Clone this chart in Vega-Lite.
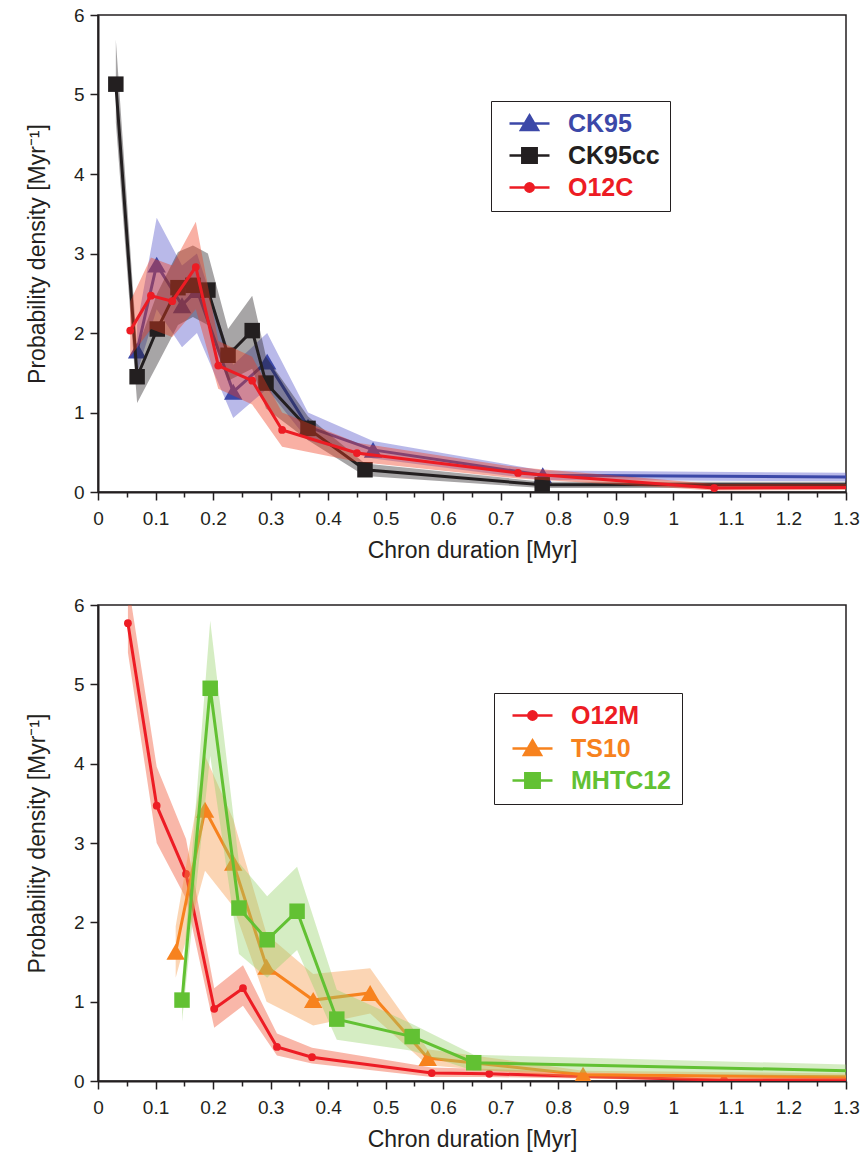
{
  "$schema": "https://vega.github.io/schema/vega-lite/v6.json",
  "padding": {"left": 25, "top": 5, "right": 5, "bottom": 5},
  "background": "white",
  "spacing": 32,
  "config": {
    "font": "Liberation Sans",
    "view": {"stroke": "#231f20", "strokeWidth": 1.5},
    "axis": {
      "grid": false,
      "domainColor": "#231f20",
      "domainWidth": 2,
      "tickColor": "#231f20",
      "tickWidth": 1.5,
      "labelFont": "Liberation Sans",
      "labelFontSize": 19,
      "labelColor": "#231f20",
      "titleFont": "Liberation Sans",
      "titleFontSize": 23,
      "titleFontWeight": "normal",
      "titleColor": "#231f20"
    },
    "axisX": {"labelPadding": 9},
    "axisY": {"labelPadding": 6},
    "legend": {
      "orient": "none",
      "strokeColor": "#231f20", "fillColor": "white", "padding": 10,
      "labelFontSize": 25, "labelFontWeight": "bold", "labelFont": "Liberation Sans", "labelOffset": 26,
      "symbolSize": 400, "symbolOffset": 16, "rowPadding": 6, "symbolStrokeWidth": 2.5, "symbolOpacity": 1,
      "labelColor": {"expr": "datum.value == 'CK95' ? '#3c48a8' : datum.value == 'CK95cc' ? '#231f20' : datum.value == 'TS10' ? '#f7821e' : datum.value == 'MHTC12' ? '#62c133' : '#ed1c24'"},
      "symbolFillColor": {"expr": "datum.value == 'CK95' ? '#3c48a8' : datum.value == 'CK95cc' ? '#231f20' : datum.value == 'TS10' ? '#f7821e' : datum.value == 'MHTC12' ? '#62c133' : '#ed1c24'"},
      "symbolStrokeColor": {"expr": "datum.value == 'CK95' ? '#3c48a8' : datum.value == 'CK95cc' ? '#231f20' : datum.value == 'TS10' ? '#f7821e' : datum.value == 'MHTC12' ? '#62c133' : '#ed1c24'"}
    }
  },
  "datasets": {
    "d": [
      {"panel": "A", "series": "CK95", "x": 0.068, "y": 1.78, "lo": 1.5, "hi": 2.1},
      {"panel": "A", "series": "CK95", "x": 0.102, "y": 2.86, "lo": 2.3, "hi": 3.45},
      {"panel": "A", "series": "CK95", "x": 0.146, "y": 2.35, "lo": 1.82, "hi": 2.85},
      {"panel": "A", "series": "CK95", "x": 0.172, "y": 2.54, "lo": 2.0, "hi": 3.0},
      {"panel": "A", "series": "CK95", "x": 0.235, "y": 1.26, "lo": 0.93, "hi": 1.6},
      {"panel": "A", "series": "CK95", "x": 0.294, "y": 1.64, "lo": 1.3, "hi": 2.0},
      {"panel": "A", "series": "CK95", "x": 0.365, "y": 0.82, "lo": 0.65, "hi": 1.0},
      {"panel": "A", "series": "CK95", "x": 0.478, "y": 0.53, "lo": 0.42, "hi": 0.64},
      {"panel": "A", "series": "CK95", "x": 0.773, "y": 0.21, "lo": 0.15, "hi": 0.27},
      {"panel": "A", "series": "CK95", "x": 1.5, "y": 0.18, "lo": 0.13, "hi": 0.23},
      {"panel": "A", "series": "CK95cc", "x": 0.031, "y": 5.13, "lo": 4.65, "hi": 5.69},
      {"panel": "A", "series": "CK95cc", "x": 0.068, "y": 1.45, "lo": 1.12, "hi": 1.8},
      {"panel": "A", "series": "CK95cc", "x": 0.103, "y": 2.05, "lo": 1.6, "hi": 2.5},
      {"panel": "A", "series": "CK95cc", "x": 0.139, "y": 2.57, "lo": 2.1, "hi": 3.02},
      {"panel": "A", "series": "CK95cc", "x": 0.165, "y": 2.6, "lo": 2.2, "hi": 3.1},
      {"panel": "A", "series": "CK95cc", "x": 0.191, "y": 2.54, "lo": 2.1, "hi": 3.0},
      {"panel": "A", "series": "CK95cc", "x": 0.226, "y": 1.72, "lo": 1.4, "hi": 2.05},
      {"panel": "A", "series": "CK95cc", "x": 0.268, "y": 2.03, "lo": 1.55, "hi": 2.47},
      {"panel": "A", "series": "CK95cc", "x": 0.292, "y": 1.37, "lo": 1.05, "hi": 1.7},
      {"panel": "A", "series": "CK95cc", "x": 0.365, "y": 0.8, "lo": 0.65, "hi": 0.95},
      {"panel": "A", "series": "CK95cc", "x": 0.464, "y": 0.28, "lo": 0.2, "hi": 0.36},
      {"panel": "A", "series": "CK95cc", "x": 0.772, "y": 0.09, "lo": 0.05, "hi": 0.13},
      {"panel": "A", "series": "CK95cc", "x": 1.5, "y": 0.09, "lo": 0.05, "hi": 0.13},
      {"panel": "A", "series": "O12C", "x": 0.056, "y": 2.03, "lo": 1.7, "hi": 2.4},
      {"panel": "A", "series": "O12C", "x": 0.092, "y": 2.47, "lo": 2.05, "hi": 2.95},
      {"panel": "A", "series": "O12C", "x": 0.129, "y": 2.4, "lo": 1.95, "hi": 2.85},
      {"panel": "A", "series": "O12C", "x": 0.17, "y": 2.83, "lo": 2.3, "hi": 3.4},
      {"panel": "A", "series": "O12C", "x": 0.209, "y": 1.59, "lo": 1.3, "hi": 1.9},
      {"panel": "A", "series": "O12C", "x": 0.268, "y": 1.4, "lo": 1.1, "hi": 1.7},
      {"panel": "A", "series": "O12C", "x": 0.32, "y": 0.78, "lo": 0.57, "hi": 1.0},
      {"panel": "A", "series": "O12C", "x": 0.45, "y": 0.49, "lo": 0.38, "hi": 0.62},
      {"panel": "A", "series": "O12C", "x": 0.73, "y": 0.24, "lo": 0.17, "hi": 0.31},
      {"panel": "A", "series": "O12C", "x": 1.071, "y": 0.05, "lo": 0.02, "hi": 0.1},
      {"panel": "A", "series": "O12C", "x": 1.5, "y": 0.06, "lo": 0.03, "hi": 0.1},
      {"panel": "B", "series": "O12M", "x": 0.052, "y": 5.77, "lo": 5.4, "hi": 6.3},
      {"panel": "B", "series": "O12M", "x": 0.102, "y": 3.47, "lo": 3.0, "hi": 3.96},
      {"panel": "B", "series": "O12M", "x": 0.153, "y": 2.61, "lo": 2.3, "hi": 3.05},
      {"panel": "B", "series": "O12M", "x": 0.202, "y": 0.91, "lo": 0.67, "hi": 1.17},
      {"panel": "B", "series": "O12M", "x": 0.252, "y": 1.17, "lo": 0.95, "hi": 1.46},
      {"panel": "B", "series": "O12M", "x": 0.311, "y": 0.43, "lo": 0.32, "hi": 0.6},
      {"panel": "B", "series": "O12M", "x": 0.372, "y": 0.3, "lo": 0.22, "hi": 0.42},
      {"panel": "B", "series": "O12M", "x": 0.58, "y": 0.1, "lo": 0.05, "hi": 0.17},
      {"panel": "B", "series": "O12M", "x": 0.68, "y": 0.09, "lo": 0.05, "hi": 0.15},
      {"panel": "B", "series": "O12M", "x": 1.088, "y": 0.01, "lo": 0.0, "hi": 0.05},
      {"panel": "B", "series": "O12M", "x": 1.5, "y": 0.02, "lo": 0.0, "hi": 0.06},
      {"panel": "B", "series": "TS10", "x": 0.135, "y": 1.63, "lo": 1.3, "hi": 1.95},
      {"panel": "B", "series": "TS10", "x": 0.186, "y": 3.42, "lo": 2.65, "hi": 4.1},
      {"panel": "B", "series": "TS10", "x": 0.235, "y": 2.75, "lo": 2.2, "hi": 3.3},
      {"panel": "B", "series": "TS10", "x": 0.293, "y": 1.44, "lo": 1.0, "hi": 1.85},
      {"panel": "B", "series": "TS10", "x": 0.374, "y": 1.02, "lo": 0.7, "hi": 1.35},
      {"panel": "B", "series": "TS10", "x": 0.473, "y": 1.11, "lo": 0.85, "hi": 1.42},
      {"panel": "B", "series": "TS10", "x": 0.573, "y": 0.29, "lo": 0.2, "hi": 0.4},
      {"panel": "B", "series": "TS10", "x": 0.843, "y": 0.08, "lo": 0.03, "hi": 0.13},
      {"panel": "B", "series": "TS10", "x": 1.5, "y": 0.04, "lo": 0.01, "hi": 0.08},
      {"panel": "B", "series": "MHTC12", "x": 0.146, "y": 1.02, "lo": 0.75, "hi": 1.25},
      {"panel": "B", "series": "MHTC12", "x": 0.195, "y": 4.95, "lo": 4.1, "hi": 5.8},
      {"panel": "B", "series": "MHTC12", "x": 0.245, "y": 2.18, "lo": 1.6, "hi": 2.75},
      {"panel": "B", "series": "MHTC12", "x": 0.294, "y": 1.78, "lo": 1.3, "hi": 2.33},
      {"panel": "B", "series": "MHTC12", "x": 0.346, "y": 2.14, "lo": 1.65, "hi": 2.7},
      {"panel": "B", "series": "MHTC12", "x": 0.415, "y": 0.78, "lo": 0.52, "hi": 1.15},
      {"panel": "B", "series": "MHTC12", "x": 0.546, "y": 0.56, "lo": 0.38, "hi": 0.72},
      {"panel": "B", "series": "MHTC12", "x": 0.653, "y": 0.23, "lo": 0.13, "hi": 0.33},
      {"panel": "B", "series": "MHTC12", "x": 1.5, "y": 0.1, "lo": 0.03, "hi": 0.17}
    ]
  },
  "vconcat": [
    {
      "width": 748,
      "height": 477,
      "data": {"name": "d"},
      "encoding": {
        "x": {
          "field": "x", "type": "quantitative",
          "scale": {"domain": [0, 1.3], "nice": false, "zero": false},
          "axis": {
            "title": "Chron duration [Myr]",
            "values": [0, 0.05, 0.1, 0.15, 0.2, 0.25, 0.3, 0.35, 0.4, 0.45, 0.5, 0.55, 0.6, 0.65, 0.7, 0.75, 0.8, 0.85, 0.9, 0.95, 1, 1.05, 1.1, 1.15, 1.2, 1.25, 1.3],
            "labelExpr": "round(datum.value*20) % 2 == 0 ? format(datum.value, '~g') : ''",
            "tickSize": {"condition": {"test": "round(datum.value*20) % 2 == 0", "value": 8}, "value": 5},
            "labelOverlap": false, "labelFlush": false, "titlePadding": 11
          }
        },
        "y": {"field": "y", "type": "quantitative", "scale": {"domain": [0, 6], "nice": false},
          "axis": {"title": "Probability density [Myr⁻¹]", "values": [0, 1, 2, 3, 4, 5, 6], "format": "d", "tickSize": 8, "titlePadding": 24}}
      },
      "layer": [
        {
          "transform": [{"filter": "datum.series === 'CK95'"}],
          "mark": {"type": "area", "opacity": 0.4, "color": "#5050c8", "clip": true},
          "encoding": {"y": {"field": "lo", "type": "quantitative"}, "y2": {"field": "hi"}}
        },
        {
          "transform": [{"filter": "datum.series === 'CK95'"}],
          "mark": {"type": "line", "strokeWidth": 3, "clip": true},
          "encoding": {
            "color": {
              "field": "series", "type": "nominal",
              "scale": {"domain": ["CK95", "CK95cc", "O12C"], "range": ["#3c48a8", "#231f20", "#ed1c24"]},
              "legend": {
                "legendX": 393, "legendY": 86, "title": null, "symbolSize": 400,
                "symbolType": {"expr": "datum.value == 'CK95' || datum.value == 'TS10' ? 'M-2,0H2M0,-0.8L0.85,0.65L-0.85,0.65Z' : datum.value == 'CK95cc' || datum.value == 'MHTC12' ? 'M-2,0H2M-0.72,-0.72H0.72V0.72H-0.72Z' : 'M-2,0H2M0.42,0A0.42,0.42 0 1,1 -0.42,0A0.42,0.42 0 1,1 0.42,0Z'"}
              }
            }
          }
        },
        {
          "transform": [{"filter": "datum.series === 'CK95'"}],
          "mark": {"type": "point", "shape": "triangle-up", "size": 340, "filled": true, "opacity": 1, "clip": true},
          "encoding": {"color": {"field": "series", "type": "nominal"}}
        },
        {
          "transform": [{"filter": "datum.series === 'CK95cc'"}],
          "mark": {"type": "area", "opacity": 0.4, "color": "#231f20", "clip": true},
          "encoding": {"y": {"field": "lo", "type": "quantitative"}, "y2": {"field": "hi"}}
        },
        {
          "transform": [{"filter": "datum.series === 'CK95cc'"}],
          "mark": {"type": "line", "strokeWidth": 3, "clip": true},
          "encoding": {"color": {"field": "series", "type": "nominal"}}
        },
        {
          "transform": [{"filter": "datum.series === 'CK95cc'"}],
          "mark": {"type": "point", "shape": "square", "size": 240, "filled": true, "opacity": 1, "clip": true},
          "encoding": {"color": {"field": "series", "type": "nominal"}}
        },
        {
          "transform": [{"filter": "datum.series === 'O12C'"}],
          "mark": {"type": "area", "opacity": 0.4, "color": "#ef3a1c", "clip": true},
          "encoding": {"y": {"field": "lo", "type": "quantitative"}, "y2": {"field": "hi"}}
        },
        {
          "transform": [{"filter": "datum.series === 'O12C'"}],
          "mark": {"type": "line", "strokeWidth": 3, "clip": true},
          "encoding": {"color": {"field": "series", "type": "nominal"}}
        },
        {
          "transform": [{"filter": "datum.series === 'O12C'"}],
          "mark": {"type": "point", "shape": "circle", "size": 60, "filled": true, "opacity": 1, "clip": true},
          "encoding": {"color": {"field": "series", "type": "nominal"}}
        }
      ]
    },
    {
      "width": 748,
      "height": 476,
      "data": {"name": "d"},
      "encoding": {
        "x": {
          "field": "x", "type": "quantitative",
          "scale": {"domain": [0, 1.3], "nice": false, "zero": false},
          "axis": {
            "title": "Chron duration [Myr]",
            "values": [0, 0.05, 0.1, 0.15, 0.2, 0.25, 0.3, 0.35, 0.4, 0.45, 0.5, 0.55, 0.6, 0.65, 0.7, 0.75, 0.8, 0.85, 0.9, 0.95, 1, 1.05, 1.1, 1.15, 1.2, 1.25, 1.3],
            "labelExpr": "round(datum.value*20) % 2 == 0 ? format(datum.value, '~g') : ''",
            "tickSize": {"condition": {"test": "round(datum.value*20) % 2 == 0", "value": 8}, "value": 5},
            "labelOverlap": false, "labelFlush": false, "titlePadding": 11
          }
        },
        "y": {"field": "y", "type": "quantitative", "scale": {"domain": [0, 6], "nice": false},
          "axis": {"title": "Probability density [Myr⁻¹]", "values": [0, 1, 2, 3, 4, 5, 6], "format": "d", "tickSize": 8, "titlePadding": 24}}
      },
      "layer": [
        {
          "transform": [{"filter": "datum.series === 'O12M'"}],
          "mark": {"type": "area", "opacity": 0.4, "color": "#ef4a28", "clip": true},
          "encoding": {"y": {"field": "lo", "type": "quantitative"}, "y2": {"field": "hi"}}
        },
        {
          "transform": [{"filter": "datum.series === 'O12M'"}],
          "mark": {"type": "line", "strokeWidth": 3, "clip": true},
          "encoding": {
            "color": {
              "field": "series", "type": "nominal",
              "scale": {"domain": ["O12M", "TS10", "MHTC12"], "range": ["#ed1c24", "#f7821e", "#62c133"]},
              "legend": {
                "legendX": 396, "legendY": 88, "title": null, "symbolSize": 400,
                "symbolType": {"expr": "datum.value == 'CK95' || datum.value == 'TS10' ? 'M-2,0H2M0,-0.8L0.85,0.65L-0.85,0.65Z' : datum.value == 'CK95cc' || datum.value == 'MHTC12' ? 'M-2,0H2M-0.72,-0.72H0.72V0.72H-0.72Z' : 'M-2,0H2M0.42,0A0.42,0.42 0 1,1 -0.42,0A0.42,0.42 0 1,1 0.42,0Z'"}
              }
            }
          }
        },
        {
          "transform": [{"filter": "datum.series === 'O12M'"}],
          "mark": {"type": "point", "shape": "circle", "size": 60, "filled": true, "opacity": 1, "clip": true},
          "encoding": {"color": {"field": "series", "type": "nominal"}}
        },
        {
          "transform": [{"filter": "datum.series === 'TS10'"}],
          "mark": {"type": "area", "opacity": 0.4, "color": "#f59643", "clip": true},
          "encoding": {"y": {"field": "lo", "type": "quantitative"}, "y2": {"field": "hi"}}
        },
        {
          "transform": [{"filter": "datum.series === 'TS10'"}],
          "mark": {"type": "line", "strokeWidth": 3, "clip": true},
          "encoding": {"color": {"field": "series", "type": "nominal"}}
        },
        {
          "transform": [{"filter": "datum.series === 'TS10'"}],
          "mark": {"type": "point", "shape": "triangle-up", "size": 340, "filled": true, "opacity": 1, "clip": true},
          "encoding": {"color": {"field": "series", "type": "nominal"}}
        },
        {
          "transform": [{"filter": "datum.series === 'MHTC12'"}],
          "mark": {"type": "area", "opacity": 0.4, "color": "#96d269", "clip": true},
          "encoding": {"y": {"field": "lo", "type": "quantitative"}, "y2": {"field": "hi"}}
        },
        {
          "transform": [{"filter": "datum.series === 'MHTC12'"}],
          "mark": {"type": "line", "strokeWidth": 3, "clip": true},
          "encoding": {"color": {"field": "series", "type": "nominal"}}
        },
        {
          "transform": [{"filter": "datum.series === 'MHTC12'"}],
          "mark": {"type": "point", "shape": "square", "size": 240, "filled": true, "opacity": 1, "clip": true},
          "encoding": {"color": {"field": "series", "type": "nominal"}}
        }
      ]
    }
  ],
  "resolve": {"scale": {"color": "independent"}, "legend": {"color": "independent"}}
}
